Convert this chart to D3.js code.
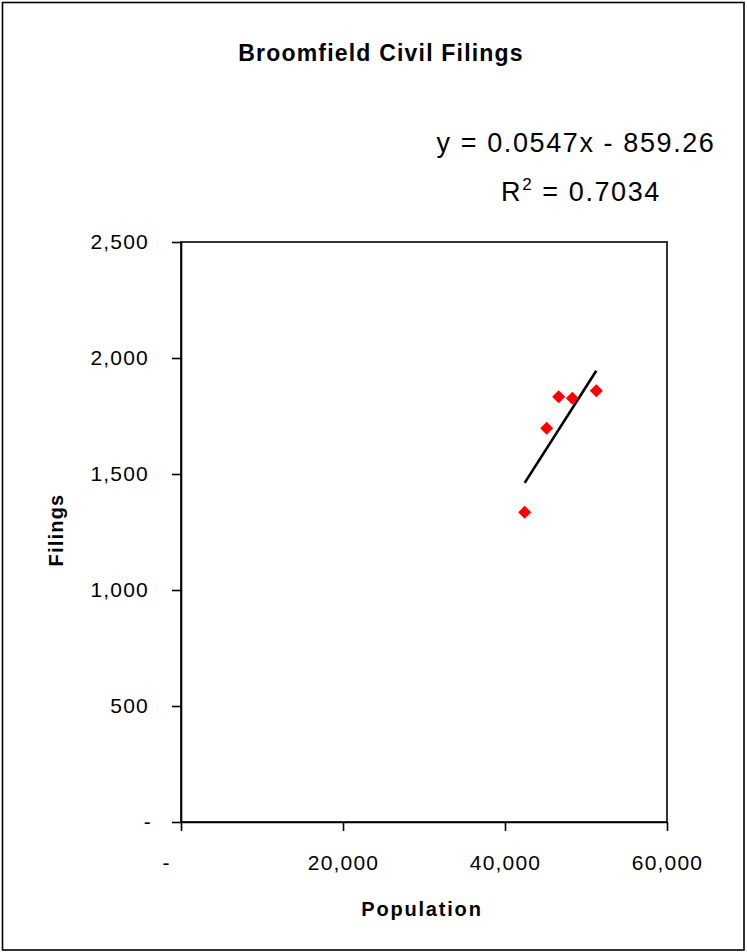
<!DOCTYPE html>
<html>
<head>
<meta charset="utf-8">
<script src="https://cdn.jsdelivr.net/npm/d3@7"></script>
<style>
  html, body { margin: 0; padding: 0; background: #fff; }
  svg { display: block; font-family: "Liberation Sans", Arial, sans-serif; }
</style>
</head>
<body>
<svg id="chart" width="747" height="952"></svg>
<script>
// Broomfield civil filings vs. population
const population = [42430, 45150, 46630, 48310, 51270];
const filings = [1335, 1697, 1833, 1826, 1859];

const xTicks = [0, 20000, 40000, 60000];
const yTicks = [0, 500, 1000, 1500, 2000, 2500];

// Linear trendline as reported on the chart
const slope = 0.0547;
const intercept = -859.26;
const rSquared = 0.7034;

const title = "Broomfield Civil Filings";
const xTitle = "Population";
const yTitle = "Filings";

const svg = d3.select("#chart");
const W = 747, H = 952;
const plot = { left: 181, right: 667, top: 242, bottom: 822 };

// outer chart frame
svg.append("rect")
  .attr("x", 2.5).attr("y", 2.5)
  .attr("width", W - 5.5).attr("height", H - 4.5)
  .attr("fill", "#fff").attr("stroke", "#000").attr("stroke-width", 1.6);

const x = d3.scaleLinear().domain([0, 60000]).range([plot.left, plot.right]);
const y = d3.scaleLinear().domain([0, 2500]).range([plot.bottom, plot.top]);

const fmt = d => d === 0 ? "-" : d3.format(",")(d);

// plot-area border
svg.append("rect")
  .attr("x", plot.left).attr("y", plot.top)
  .attr("width", plot.right - plot.left).attr("height", plot.bottom - plot.top)
  .attr("fill", "none").attr("stroke", "#000").attr("stroke-width", 1.6);

// y axis
const yAxis = svg.append("g")
  .attr("transform", `translate(${plot.left},0)`)
  .call(d3.axisLeft(y).tickValues(yTicks).tickFormat(fmt).tickSizeInner(9).tickSizeOuter(0).tickPadding(23));
yAxis.selectAll("path, line").attr("stroke", "#000").attr("stroke-width", 1.6);
yAxis.selectAll("text")
  .attr("font-size", 21).attr("letter-spacing", "1.2px").attr("fill", "#000")
  .attr("font-family", "'Liberation Sans', Arial, sans-serif");
yAxis.selectAll(".tick").filter(d => d === 0).select("text").attr("x", -29);

// x axis
const xAxis = svg.append("g")
  .attr("transform", `translate(0,${plot.bottom})`)
  .call(d3.axisBottom(x).tickValues(xTicks).tickFormat(fmt).tickSizeInner(9).tickSizeOuter(0).tickPadding(24));
xAxis.selectAll("path, line").attr("stroke", "#000").attr("stroke-width", 1.6);
xAxis.selectAll("text")
  .attr("font-size", 21).attr("letter-spacing", "1.2px").attr("fill", "#000")
  .attr("font-family", "'Liberation Sans', Arial, sans-serif");
xAxis.selectAll(".tick").filter(d => d === 0).select("text").attr("x", -15);

// trendline over the observed population range
const xMin = d3.min(population), xMax = d3.max(population);
svg.append("line")
  .attr("x1", x(xMin)).attr("y1", y(slope * xMin + intercept))
  .attr("x2", x(xMax)).attr("y2", y(slope * xMax + intercept))
  .attr("stroke", "#000").attr("stroke-width", 2.6);

// data markers (diamonds)
const r = 6.5;
svg.append("g").selectAll("path")
  .data(population.map((p, i) => [p, filings[i]]))
  .join("path")
  .attr("d", d => {
    const cx = x(d[0]), cy = y(d[1]);
    return `M${cx},${cy - r}L${cx + r},${cy}L${cx},${cy + r}L${cx - r},${cy}Z`;
  })
  .attr("fill", "#ff0000");

// title
svg.append("text")
  .attr("x", 381).attr("y", 61)
  .attr("text-anchor", "middle")
  .attr("font-size", 23).attr("font-weight", "bold").attr("letter-spacing", "1.2px")
  .text(title);

// regression equation
svg.append("text")
  .attr("x", 576).attr("y", 152)
  .attr("text-anchor", "middle")
  .attr("font-size", 27).attr("letter-spacing", "1.6px")
  .text(`y = ${slope}x - ${Math.abs(intercept)}`);

const r2 = svg.append("text")
  .attr("x", 581).attr("y", 201)
  .attr("text-anchor", "middle")
  .attr("font-size", 27).attr("letter-spacing", "1.6px");
r2.append("tspan").text("R");
r2.append("tspan").attr("font-size", 17).attr("dy", -11).text("2");
r2.append("tspan").attr("dy", 11).text(` = ${rSquared}`);

// axis titles
svg.append("text")
  .attr("x", 422).attr("y", 916)
  .attr("text-anchor", "middle")
  .attr("font-size", 20).attr("font-weight", "bold").attr("letter-spacing", "1.8px")
  .text(xTitle);

svg.append("text")
  .attr("transform", "translate(63,530) rotate(-90)")
  .attr("text-anchor", "middle")
  .attr("font-size", 20).attr("font-weight", "bold").attr("letter-spacing", "1.2px")
  .text(yTitle);
</script>
</body>
</html>
